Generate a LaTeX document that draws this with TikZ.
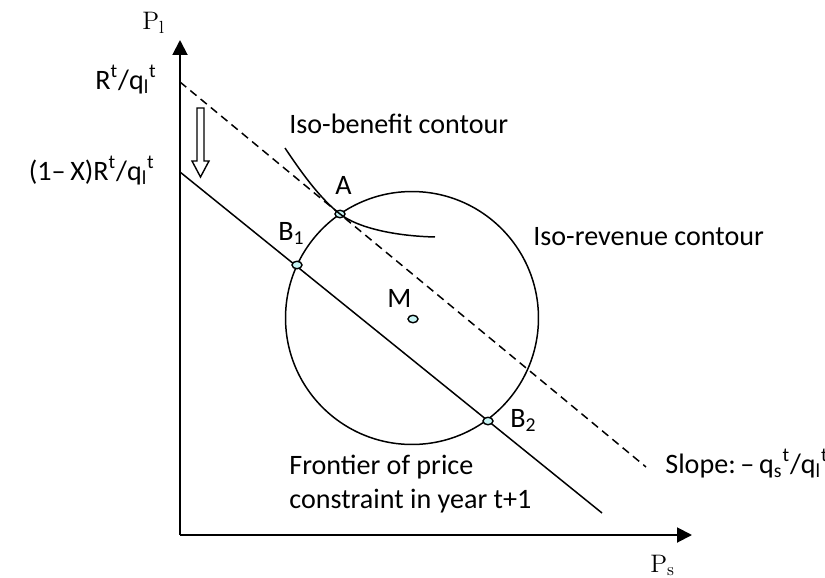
\documentclass[tikz,border=0pt]{standalone}
\usepackage[no-math]{fontspec}
\setmainfont{Carlito}
\usepackage{xcolor}
\usepackage{tikz}
\usetikzlibrary{shapes.geometric, positioning, arrows.meta, calc}

\definecolor{dotfill}{RGB}{200,245,245}

\begin{document}
\begin{tikzpicture}[
        x=0.02cm, y=-0.02cm,
        % Style for the axes
        axisline/.style={
            line width=1.1pt,
            -{Triangle[length=0.3cm, width=0.3cm]}
        },
        % Style for the budget lines and contours
        pricecurve/.style={
            line width=0.85pt
        },
        % Style for the small marked points
        pointdot/.style={
            draw,
            ellipse,
            fill=dotfill,
            line width=0.8pt,
            minimum width=0.2cm,
            minimum height=0.15cm,
            inner sep=0pt
        },
        % Style for the text labels
        plainlabel/.style={
            inner sep=0pt,
            font=\fontsize{16}{18.8}\selectfont
        },
        axislabel/.style={
            inner sep=0pt,
            font=\fontsize{14.2}{16}\selectfont
        }
    ]

    \useasboundingbox (0,0) rectangle (825,578);

    % ==========================================
    % AXES
    % ==========================================
    \coordinate (O) at (180,535);
    \draw[axisline] (O) -- (180,40);
    \draw[axisline] (O) -- (692,535);
    \node[axislabel, anchor=base west] (Pl) at (142,30) {$\mathrm{P}_{\mathrm{l}}$};
    \node[axislabel, anchor=base west] (Ps) at (650,572) {$\mathrm{P}_{\mathrm{s}}$};

    % ==========================================
    % PRICE CONSTRAINT LINES
    % ==========================================
    \coordinate (Rt) at (180,82);
    \coordinate (slopeend) at (646,467);
    \coordinate (XRt) at (180,172);
    \coordinate (frontend) at (602,513);

    \draw[pricecurve, dash pattern=on 4.6pt off 3pt] (Rt) -- (slopeend);
    \draw[pricecurve] (XRt) -- (frontend);

    \node[plainlabel, anchor=base east] (Rlabel) at (157,89)
        {R\textsuperscript{t}/q\textsubscript{l}\textsuperscript{t}};
    \node[plainlabel, anchor=base east] (XRlabel) at (155,180)
        {(1–\,X)R\textsuperscript{t}/q\textsubscript{l}\textsuperscript{t}};

    % Hollow arrow for the cut
    \draw[line width=0.8pt] (197,108) -- (204,108) -- (204,161) -- (209,161)
        -- (200.5,177) -- (192,161) -- (197,161) -- cycle;

    % ==========================================
    % CONTOURS AND POINTS
    % ==========================================
    \node[pointdot] (M) at (413,319) {};
    \draw[pricecurve] (412,318) circle[radius=2.53cm];

    \node[pointdot] (A) at (340,214) {};
    \node[pointdot] (B1) at (297,265) {};
    \node[pointdot] (B2) at (488,421) {};

    % Iso-benefit contour touching the dashed line at A
    \draw[pricecurve] (285,148) .. controls (305,178) and (322,200) .. (A.center)
        .. controls (358,228) and (395,236) .. (435,237);

    % point labels
    \node[plainlabel, anchor=base west] (Alabel) at (335,194) {A};
    \node[plainlabel, anchor=base west] (B1label) at (278,240) {B\textsubscript{1}};
    \node[plainlabel, anchor=base west] (B2label) at (510,427) {B\textsubscript{2}};
    \node[plainlabel, anchor=base west] (Mlabel) at (387,307) {M};

    % contour descriptions
    \node[plainlabel, anchor=base west] (isobenefit) at (289,133) {Iso-benefit contour};
    \node[plainlabel, anchor=base west] (isorevenue) at (533,245) {Iso-revenue contour};
    \node[plainlabel, anchor=base west, align=left] (frontier) at (289,508)
        {Frontier of price\\constraint in year t+1};
    \node[plainlabel, anchor=base west] (slope) at (665,473)
        {Slope:\,–\,q\textsubscript{s}\textsuperscript{t}/q\textsubscript{l}\textsuperscript{t}};

\end{tikzpicture}
\end{document}
